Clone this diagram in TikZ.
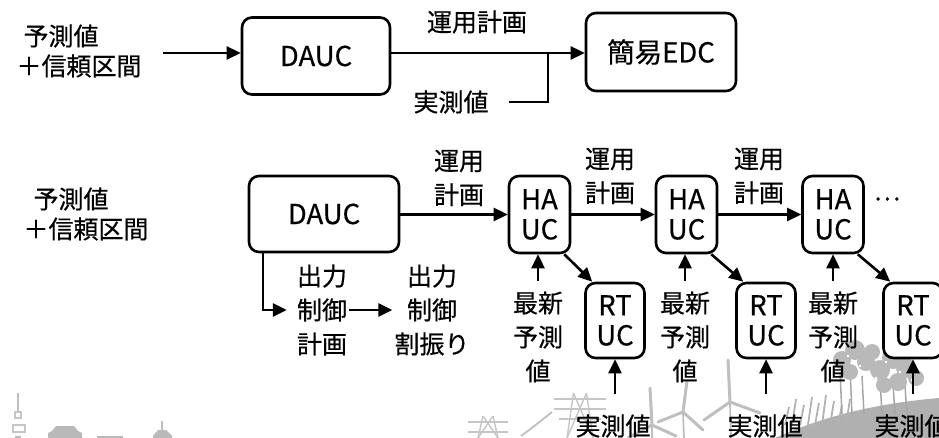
\documentclass[tikz,border=0pt]{standalone}
\usepackage{fontspec}
\setmainfont{Noto Sans CJK JP}[FakeBold=0.5]
\usetikzlibrary{arrows.meta}
\begin{document}
\begin{tikzpicture}[x=1pt,y=-1pt,
  box/.style={draw,fill=white,line width=2.6pt,rounded corners=10pt,inner sep=0pt,
    align=center,font=\fontsize{27.5}{30}\selectfont},
  lbl/.style={inner sep=2pt,align=center,font=\fontsize{25}{34}\selectfont},
  flow/.style={line width=2.6pt,-{Triangle[length=14pt,width=13pt]}},
  wire/.style={line width=2.6pt},
  blade/.style={draw=gray!50,line width=3pt,line cap=round},
  tower/.style={draw=gray!50,line width=1.8pt},
  lattice/.style={draw=gray!45,line width=1.4pt}]
\useasboundingbox (0,0) rectangle (939,438);
\clip (0,0) rectangle (939,438);

% ---------- background scenery ----------
% city skyline at the left
\draw[tower] (18,393) -- (18,411);
\draw[lattice] (15,412) rectangle (21,418);
\draw[lattice] (13,425) rectangle (25,432);
\fill[gray!55] (15,436) rectangle (21,438);
\fill[gray!55] (56,426) -- (74,426) -- (78,431) -- (82,433) -- (82,438) -- (48,438) -- (48,433) -- (52,431) -- cycle;
\fill[gray!55] (97,436) rectangle (123,438);
\draw[tower] (162,421) -- (162,431);
\fill[gray!55] (158,430) -- (166,430) -- (172,436) -- (172,438) -- (153,438) -- (153,436) -- cycle;
% transmission pylons
\foreach \cx/\top/\half in {488/416/10, 580/393/13}{
  \draw[lattice] (\cx-\half/2,\top) -- (\cx-\half,438) (\cx+\half/2,\top) -- (\cx+\half,438);
  \draw[lattice] (\cx-\half/2,\top) -- (\cx+\half,438) (\cx+\half/2,\top) -- (\cx-\half,438);
  \draw[lattice] (\cx-2*\half,\top+6) -- (\cx+2*\half,\top+6);
  \draw[lattice] (\cx-2*\half,\top+16) -- (\cx+2*\half,\top+16);
  \draw[lattice] (\cx-1.6*\half,\top+26) -- (\cx+1.6*\half,\top+26);
}
\draw[gray!50,line width=1.8pt] (521,436) .. controls (532,428) and (542,420) .. (552,412);
% wind turbines
\draw[tower] (652,425) -- (652,438);
\draw[blade] (652,425) -- (650,388);
\draw[blade] (652,425) -- (628,438);
\draw[blade] (652,425) -- (676,436);
\draw[tower] (683,412) -- (684,438);
\draw[blade] (683,412) -- (687,381);
\draw[blade] (683,412) -- (658,422);
\draw[blade] (683,412) -- (703,430);
\draw[tower] (730,402) -- (731,438);
\draw[blade] (730,402) -- (728,360);
\draw[blade] (730,402) -- (704,420);
\draw[blade] (730,402) -- (760,413);
% hill, grass and trees at the right
\fill[gray!62] (775,438) .. controls (820,418) and (870,404) .. (939,398) -- (939,438) -- cycle;
\foreach \gx/\gh in {785/18,792/26,800/20,808/28,815/22,822/30,830/24,838/20,846/26}{
  \draw[gray!60,line width=1.8pt] (\gx,425) -- (\gx+4,425-\gh);
}
\foreach \tx/\ty in {840/372,850/368,862/376,880/380,893/384,905/386}{
  \draw[gray!70,line width=1.5pt] (\tx+2,414) -- (\tx,\ty);
}
\foreach \cx/\cy/\r in {842/360/9,855/350/10,866/362/9,850/372/8,872/352/8,
                        880/370/10,893/358/11,906/368/10,898/382/9,916/378/8,884/385/8}{
  \fill[gray!55] (\cx,\cy) circle [radius=\r];
}
\foreach \wx/\wy in {848/356,860/366,886/362,900/372,912/380,876/378,892/350}{
  \fill[white] (\wx,\wy) circle [radius=1.3];
}

% ---------- upper chain ----------
\node[lbl] (tpred) at (61,36) {予測値};
\node[lbl] (tconf) at (79,66) {＋信頼区間};
\coordinate (tin) at (163,53);
\node[box,minimum width=148pt,minimum height=77pt] (dauc1) at (316,56) {DAUC};
\node[box,minimum width=150pt,minimum height=78pt] (edc) at (661,52) {簡易EDC};
\node[lbl] (tplan) at (477,22) {運用計画};
\node[lbl] (tobs) at (451,102) {実測値};
\coordinate (tj) at (548,53);
\draw[flow] (tin) -- (tin -| dauc1.west);
\draw[flow] (dauc1.east |- tin) -- (tin -| edc.west);
\draw[wire] ([xshift=18pt]tobs.east) -| (tj);

% ---------- lower chain ----------
\node[lbl] (bpred) at (71,199) {予測値};
\node[lbl] (bconf) at (86,229) {＋信頼区間};
\node[box,minimum width=150pt,minimum height=76pt] (dauc2) at (324,214) {DAUC};
\node[lbl] (plan1) at (459,178) {運用\\計画};
\node[lbl] (plan2) at (610,176) {運用\\計画};
\node[lbl] (plan3) at (759,176) {運用\\計画};

\foreach \i/\x in {1/539.5,2/686.5,3/833}{
  \node[box,minimum width=61pt,minimum height=77pt] (ha\i) at (\x,214.5) {HA\\UC};
}
\foreach \i/\x in {1/615,2/766,3/913}{
  \node[box,minimum width=59pt,minimum height=75pt] (rt\i) at (\x,320.5) {RT\\UC};
}
\node[lbl] (dots) at (887,199) {…};

\draw[flow] (dauc2.east |- ha1.west) -- (ha1.west);
\draw[flow] (ha1.east) -- (ha2.west);
\draw[flow] (ha2.east) -- (ha3.west);

% latest forecasts into each HA UC
\foreach \i/\x in {1/538,2/685,3/833}{
  \node[lbl] (new\i) at (\x,337) {最新\\予測\\値};
  \draw[flow] (new\i.north |- 0,281) coordinate (nt\i) -- (nt\i |- ha\i.south);
}
% HA UC hands over to RT UC
\foreach \i in {1,2,3}{
  \draw[flow] ([xshift=-7pt]ha\i.south east) -- ([xshift=8pt]rt\i.north west);
}
% measured values into each RT UC
\foreach \i/\x in {1/613,2/765,3/912}{
  \node[lbl] (obs\i) at (\x,426) {実測値};
  \draw[flow] (rt\i.south |- 0,394) coordinate (ot\i) -- (rt\i.south);
}

% output control branch
\node[lbl] (ctl1) at (322,310) {出力\\制御\\計画};
\node[lbl] (ctl2) at (432,310) {出力\\制御\\割振り};
\draw[flow] ([xshift=-61pt]dauc2.south) |- ([xshift=-8pt]ctl1.west);
\draw[flow] (ctl1.east) -- (ctl2.west);
\end{tikzpicture}
\end{document}
